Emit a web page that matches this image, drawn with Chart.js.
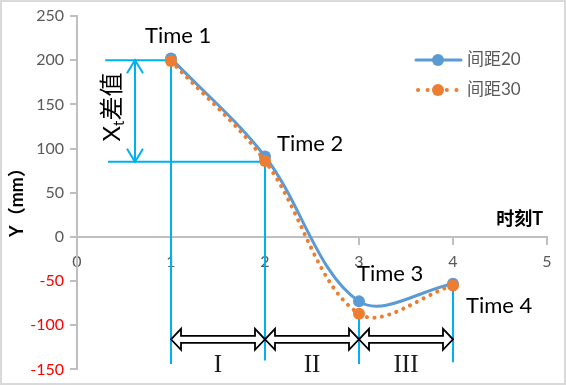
<!DOCTYPE html>
<html>
<head>
<meta charset="utf-8">
<script src="https://cdn.jsdelivr.net/npm/chart.js@4.4.0/dist/chart.umd.min.js"></script>
<style>
    html, body { margin: 0; padding: 0; background: #fff; }
</style>
</head>
<body>
<canvas id="grafico" width="566" height="385"></canvas>
<script>
// dados
const tempos = [1, 2, 3, 4];
const serie20 = [202, 91, -73, -53];
const serie30 = [199, 86, -87, -55];
const nomesSeries = ['间距20', '间距30'];
const rotulosTempo = ['Time 1', 'Time 2', 'Time 3', 'Time 4'];
const fases = ['I', 'II', 'III'];

const azul = '#5b9bd5';
const laranja = '#ed7d31';
const ciano = '#00b0f0';
const cinza = '#595959';
const eixo = '#bfbfbf';

function pontos (valores) {
    return tempos.map((t, i) => ({ x: t, y: valores[i] }));
}

function linha (c, x1, y1, x2, y2) {
    c.beginPath();
    c.moveTo(x1, y1);
    c.lineTo(x2, y2);
    c.stroke();
}

function setaDupla (c, x1, x2, y) {
    const hl = 10, hh = 10.5, sh = 3.5;
    c.beginPath();
    c.moveTo(x1, y);
    c.lineTo(x1 + hl, y - hh);
    c.lineTo(x1 + hl, y - sh);
    c.lineTo(x2 - hl, y - sh);
    c.lineTo(x2 - hl, y - hh);
    c.lineTo(x2, y);
    c.lineTo(x2 - hl, y + hh);
    c.lineTo(x2 - hl, y + sh);
    c.lineTo(x1 + hl, y + sh);
    c.lineTo(x1 + hl, y + hh);
    c.closePath();
    c.fill();
    c.stroke();
}

const anotacoes = {
    id: 'anotacoes',
    beforeDraw (chart) {
        const c = chart.ctx;
        c.save();
        c.fillStyle = '#fff';
        c.fillRect(0, 0, chart.width, chart.height);
        c.strokeStyle = '#d9d9d9';
        c.lineWidth = 2;
        c.strokeRect(1, 1, chart.width - 2, chart.height - 2);
        c.restore();
    },
    beforeDatasetsDraw (chart) {
        const c = chart.ctx;
        const px = v => chart.scales.x.getPixelForValue(v);
        const py = v => chart.scales.y.getPixelForValue(v);
        c.save();
        c.strokeStyle = ciano;
        c.lineWidth = 2;

        // linhas guia do Xt
        linha(c, px(0.3), py(200), px(1), py(200));
        linha(c, px(0.33), py(85), px(2), py(85));

        // verticais em cada tempo
        const topos = [200, 85, serie30[2], serie30[3]];
        const fundos = [-144, -140, -144, -142];
        tempos.forEach((t, i) => linha(c, px(t), py(topos[i]), px(t), py(fundos[i])));

        // seta do Xt
        const xa = px(0.617), ya = py(200), yb = py(85);
        linha(c, xa, ya, xa, yb);
        c.beginPath();
        c.moveTo(xa - 8, ya + 13); c.lineTo(xa, ya); c.lineTo(xa + 8, ya + 13);
        c.moveTo(xa - 8, yb - 13); c.lineTo(xa, yb); c.lineTo(xa + 8, yb - 13);
        c.stroke();

        // setas das fases
        c.fillStyle = '#fff';
        c.strokeStyle = '#000';
        c.lineWidth = 1.8;
        for (let i = 0; i < 3; i++) {
            setaDupla(c, px(tempos[i]), px(tempos[i + 1]), py(-116));
        }
        c.restore();
    },
    afterDraw (chart) {
        const c = chart.ctx;
        const px = v => chart.scales.x.getPixelForValue(v);
        const py = v => chart.scales.y.getPixelForValue(v);
        c.save();

        // rotulos Time
        const desloc = [[-26, -15], [12, -5], [-2, -20], [13, 29]];
        c.fillStyle = '#000';
        c.font = '22px Lato';
        c.textAlign = 'left';
        c.textBaseline = 'alphabetic';
        tempos.forEach((t, i) => {
            c.fillText(rotulosTempo[i], px(t) + desloc[i][0], py(serie20[i]) + desloc[i][1]);
        });

        // fases I II III
        c.font = '25px "Liberation Serif"';
        c.textAlign = 'center';
        c.textBaseline = 'middle';
        c.fillStyle = '#1a1a1a';
        for (let i = 0; i < 3; i++) {
            c.fillText(fases[i], (px(tempos[i]) + px(tempos[i + 1])) / 2, py(-145));
        }

        // Xt差值 vertical
        c.save();
        c.translate(111, 107);
        c.rotate(-Math.PI / 2);
        c.textAlign = 'left';
        c.textBaseline = 'alphabetic';
        c.fillStyle = '#000';
        c.font = '24px Lato';
        const wX = c.measureText('X').width;
        c.font = '15px Lato';
        const wt = c.measureText('t').width;
        c.font = '24px "Noto Sans CJK SC"';
        const wc = c.measureText('差值').width;
        let x0 = -(wX + wt + wc) / 2;
        c.font = '24px Lato';
        c.fillText('X', x0, 9);
        c.font = '15px Lato';
        c.fillText('t', x0 + wX, 13);
        c.font = '24px "Noto Sans CJK SC"';
        c.fillText('差值', x0 + wX + wt, 9);
        c.restore();

        // titulo eixo Y
        c.save();
        c.translate(17, 198);
        c.rotate(-Math.PI / 2);
        c.font = 'bold 18px Lato, "Noto Sans CJK SC"';
        c.textAlign = 'center';
        c.textBaseline = 'middle';
        c.fillStyle = '#000';
        c.fillText('Y（mm）', 0, 0);
        c.restore();

        // titulo eixo X
        c.font = 'bold 18px Lato, "Noto Sans CJK SC"';
        c.textAlign = 'right';
        c.textBaseline = 'middle';
        c.fillStyle = '#000';
        c.fillText('时刻T', 543, 219);

        // legenda
        c.font = '17px Lato, "Noto Sans CJK SC"';
        c.textAlign = 'left';
        c.lineCap = 'round';
        c.strokeStyle = azul;
        c.lineWidth = 3;
        linha(c, 416, 60, 461, 60);
        c.fillStyle = azul;
        c.beginPath(); c.arc(438, 60, 6, 0, Math.PI * 2); c.fill();
        c.strokeStyle = laranja;
        c.lineWidth = 4;
        c.setLineDash([0.1, 9.5]);
        linha(c, 418, 90, 461, 90);
        c.setLineDash([]);
        c.fillStyle = laranja;
        c.beginPath(); c.arc(438, 90, 6, 0, Math.PI * 2); c.fill();
        c.fillStyle = cinza;
        c.fillText(nomesSeries[0], 467, 60);
        c.fillText(nomesSeries[1], 467, 90);

        c.restore();
    }
};

const ctx = document.getElementById('grafico');

new Chart(ctx, {
    type: 'line',
    data: {
        datasets: [{
            label: nomesSeries[0],
            data: pontos(serie20),
            borderColor: azul,
            backgroundColor: azul,
            borderWidth: 3,
            pointRadius: 6,
            pointBorderWidth: 0,
            tension: 0.35,
            order: 2
        }, {
            label: nomesSeries[1],
            data: pontos(serie30),
            borderColor: laranja,
            backgroundColor: laranja,
            borderWidth: 4,
            borderDash: [0.1, 7.5],
            borderCapStyle: 'round',
            pointRadius: 6,
            pointBorderWidth: 0,
            tension: 0.35,
            order: 1
        }]
    },
    options: {
        responsive: false,
        animation: false,
        devicePixelRatio: 1,
        layout: { padding: { left: 0, right: 19, top: 16, bottom: 15 } },
        plugins: {
            legend: { display: false },
            tooltip: { enabled: false }
        },
        scales: {
            x: {
                type: 'linear',
                min: 0,
                max: 5,
                position: { y: 0 },
                ticks: { stepSize: 1, color: cinza, font: { family: 'Lato', size: 16 }, padding: 8 },
                grid: { drawOnChartArea: false, tickLength: 7, color: eixo, lineWidth: 2 },
                border: { color: eixo, width: 2 },
                afterFit: s => { s.height = 0; }
            },
            y: {
                min: -150,
                max: 250,
                ticks: {
                    stepSize: 50,
                    color: c => c.tick.value < 0 ? '#ff0000' : cinza,
                    font: { family: 'Lato', size: 16 },
                    padding: 6
                },
                grid: { drawOnChartArea: false, tickLength: 7, color: eixo, lineWidth: 2 },
                border: { color: eixo, width: 2 },
                afterFit: s => { s.width = 77; }
            }
        }
    },
    plugins: [anotacoes]
});
</script>
</body>
</html>
